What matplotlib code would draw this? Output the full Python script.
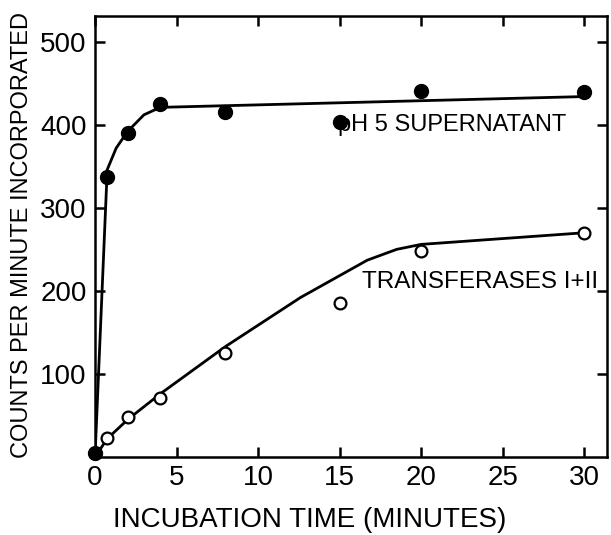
import matplotlib
matplotlib.use("Agg")
import matplotlib.pyplot as plt

# measured points
time_ph5 = [0, 0.75, 2, 4, 8, 15, 20, 30]
counts_ph5 = [5, 337, 390, 425, 416, 403, 441, 440]
time_tr = [0.75, 2, 4, 8, 15, 20, 30]
counts_tr = [23, 48, 71, 125, 185, 248, 270]

# hand-drawn fit curves
curve_ph5_t = [0, 0.75, 1.3, 2, 3, 4, 30]
curve_ph5_y = [0, 346, 372, 392, 412, 421, 434]
curve_tr_t = [0, 0.75, 2, 4, 8, 12.6, 16.7, 18.5, 20, 30]
curve_tr_y = [0, 22, 45, 76, 133, 192, 237, 250, 256, 270]

xticks = [0, 5, 10, 15, 20, 25, 30]
yticks = [100, 200, 300, 400, 500]

plt.rcParams['font.family'] = ['Liberation Sans', 'DejaVu Sans']

fig = plt.figure(figsize=(6.11, 5.35), dpi=100)
ax = fig.add_axes([95/611, 78/535, 512/611, 441/535])

ax.plot(curve_ph5_t, curve_ph5_y, color='black', lw=2, zorder=2)
ax.plot(curve_tr_t, curve_tr_y, color='black', lw=2, zorder=2)
ax.plot(time_tr, counts_tr, 'o', ms=8.5, mfc='white', mec='black', mew=1.6, zorder=3, clip_on=False)
ax.plot(time_ph5, counts_ph5, 'o', ms=10, color='black', zorder=4, clip_on=False)

ax.set_xlim(0, 31.4)
ax.set_ylim(0, 531)
ax.set_xticks(xticks)
ax.set_yticks(yticks)
ax.tick_params(direction='in', length=7, width=1.8, top=True, right=True,
               labelsize=20, pad=6)
for s in ax.spines.values():
    s.set_linewidth(1.8)

ax.text(14.9, 400, 'pH 5 SUPERNATANT', fontsize=17, va='center', ha='left')
ax.text(16.4, 211, 'TRANSFERASES I+II', fontsize=17.5, va='center', ha='left')

fig.text(22/611, 1 - 235/535, 'COUNTS PER MINUTE INCORPORATED', rotation=90,
         fontsize=17, ha='center', va='center')
fig.text(310/611, 1 - 520/535, 'INCUBATION TIME (MINUTES)', fontsize=20,
         ha='center', va='center')

fig.savefig('out.png', dpi=100)
